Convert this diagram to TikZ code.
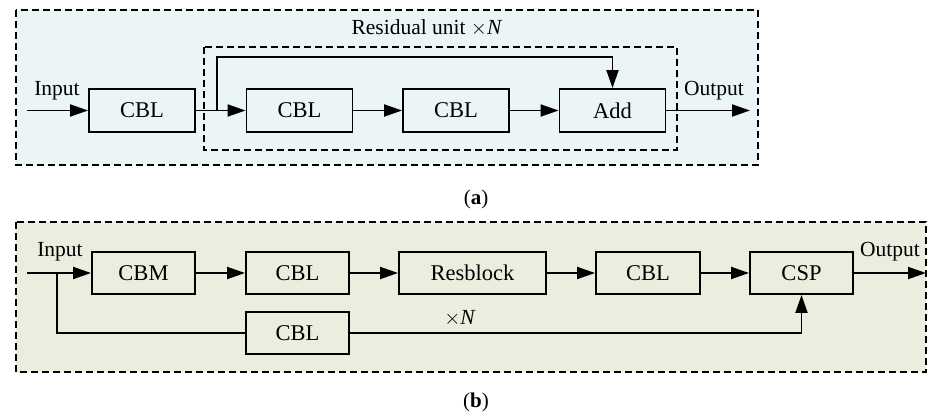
\documentclass[tikz,border=0pt]{standalone}
\usepackage{fontspec}
\setmainfont{Liberation Serif}
\usetikzlibrary{arrows.meta}
\definecolor{panelblue}{HTML}{EBF4F7}
\definecolor{panelgreen}{HTML}{E9EEDE}
\tikzset{
  blk/.style={draw, line width=1.9pt, minimum height=43pt, minimum width=106pt,
              inner sep=0pt, font=\rmfamily\fontsize{22.5}{27}\selectfont},
  lbl/.style={inner sep=0pt, font=\rmfamily\fontsize{21.5}{25}\selectfont},
  captext/.style={inner sep=0pt, font=\rmfamily\fontsize{21}{25}\selectfont},
  frame/.style={draw, line width=1.8pt, dash pattern=on 7pt off 4pt},
  arr/.style={line width=1.9pt, -{Triangle[length=18pt,width=12pt]}},
  wire/.style={line width=1.9pt},
}
\begin{document}
\begin{tikzpicture}[x=1pt,y=-1pt]
\useasboundingbox (0,0) rectangle (928,414);

% ---------- (a) residual block ----------
\draw[frame, fill=panelblue] (16,10) rectangle (758,165);
\draw[frame] (204,47) rectangle (677,150);
\node[lbl] (restitle) at (427,28) {Residual unit $\times$\textit{N}};

\node[blk] (a1) at (142,110.5) {CBL};
\node[blk] (a2) at (299.5,110.5) {CBL};
\node[blk] (a3) at (456,110.5) {CBL};
\node[blk] (add) at (612.5,110.5) {Add};

\coordinate (ain) at (27,110.5);
\coordinate (asplit) at (217,110.5);
\coordinate (askip) at (217,57);
\coordinate (aout) at (750,110.5);
\node[lbl] (ainlbl) at (57,91) {Input};
\node[lbl] (aoutlbl) at (714,91) {Output};

\draw[arr] (ain) -- (a1.west);
\draw[arr] (a1.east) -- (a2.west);
\draw[arr] (a2.east) -- (a3.west);
\draw[arr] (a3.east) -- (add.west);
\draw[arr] (asplit) -- (askip) -| (add.north);
\draw[arr] (add.east) -- (aout);

\node[captext] (capa) at (476,199) {(\textbf{a})};

% ---------- (b) CSP block ----------
\draw[frame, fill=panelgreen] (16,222) rectangle (926,372);

\node[blk, minimum width=103pt, minimum height=42pt] (cbm) at (143.5,273) {CBM};
\node[blk, minimum width=103pt, minimum height=42pt] (b1) at (297.5,273) {CBL};
\node[blk, minimum width=147pt, minimum height=42pt] (res) at (472.5,273) {Resblock};
\node[blk, minimum width=104pt, minimum height=42pt] (b2) at (648,273) {CBL};
\node[blk, minimum width=103pt, minimum height=42pt] (csp) at (801.5,273) {CSP};
\node[blk, minimum width=103pt, minimum height=42pt] (b3) at (297.5,333) {CBL};

\coordinate (bin) at (27,273);
\coordinate (bsplit) at (57,273);
\coordinate (bturn) at (801.5,333);
\coordinate (bout) at (926,273);
\node[lbl] (binlbl) at (60,252) {Input};
\node[lbl] (boutlbl) at (890,252) {Output};
\node[lbl] (times) at (460,318) {$\times$\textit{N}};

\draw[arr] (bin) -- (cbm.west);
\draw[arr] (cbm.east) -- (b1.west);
\draw[arr] (b1.east) -- (res.west);
\draw[arr] (res.east) -- (b2.west);
\draw[arr] (b2.east) -- (csp.west);
\draw[arr] (csp.east) -- (bout);
\draw[wire] (bsplit) |- (b3.west);
\draw[arr] (b3.east) -- (bturn) -- (csp.south);

\node[captext] (capb) at (476,402) {(\textbf{b})};
\end{tikzpicture}
\end{document}
